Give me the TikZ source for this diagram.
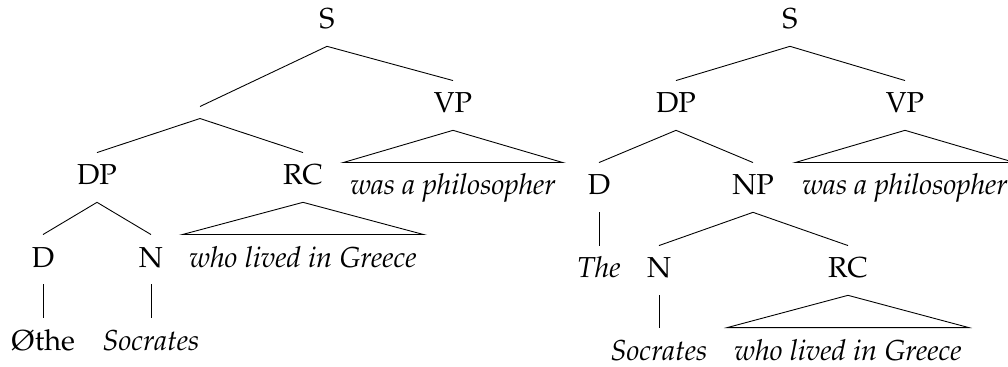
\documentclass[tikz,border=0pt]{standalone}
\usepackage[T1]{fontenc}
\usepackage{mathpazo}
\usetikzlibrary{positioning}
\newcommand{\treefont}{\fontsize{13pt}{16pt}\selectfont}
\tikzstyle{cat} = [anchor=base, inner sep=0pt, text height=14.4pt, text depth=7.6pt, font=\treefont]
\tikzstyle{leaf} = [cat, font=\treefont\itshape, inner xsep=3pt]
\tikzstyle{blank} = [inner sep=0pt, minimum height=5pt, minimum width=0pt]

\begin{document}
\begin{tikzpicture}[x=0.45pt, y=-0.45pt]
	\useasboundingbox (0,0) rectangle (1008,367);
	% left tree
	\node[cat] (lS) at (327,29) {S};
	\node[blank] (lX) at (200,112.5) {};
	\node[cat] (lVP) at (453,113) {VP};
	\node[leaf] (lVPt) at (453,195) {was a philosopher};
	\node[cat] (lDP) at (97,185) {DP};
	\node[cat] (lRC) at (303,185) {RC};
	\node[leaf] (lRCt) at (303,267) {who lived in Greece};
	\node[cat] (lD) at (43,267) {D};
	\node[cat] (lN) at (151,267) {N};
	\node[cat] (lthe) at (43,350) {\O the};
	\node[leaf] (lsoc) at (151,350) {Socrates};
	\draw (lS.south) -- (lX.north) (lS.south) -- (lVP.north);
	\draw (lX.south) -- (lDP.north) (lX.south) -- (lRC.north);
	\draw (lDP.south) -- (lD.north) (lDP.south) -- (lN.north);
	\draw (lD.south) -- (lthe.north) (lN.south) -- (lsoc.north);
	\draw (lVP.south) -- (lVPt.north west) -- (lVPt.north east) -- cycle;
	\draw (lRC.south) -- (lRCt.north west) -- (lRCt.north east) -- cycle;
	% right tree
	\node[cat] (rS) at (790,29) {S};
	\node[cat] (rDP) at (676,113) {DP};
	\node[cat] (rVP) at (905,113) {VP};
	\node[leaf] (rVPt) at (905,195) {was a philosopher};
	\node[cat] (rD) at (599,195) {D};
	\node[cat] (rNP) at (753,195) {NP};
	\node[leaf] (rthe) at (599,278) {The};
	\node[cat] (rN) at (659,278) {N};
	\node[cat] (rRC) at (848,278) {RC};
	\node[leaf] (rsoc) at (659,360) {Socrates};
	\node[leaf] (rRCt) at (848,360) {who lived in Greece};
	\draw (rS.south) -- (rDP.north) (rS.south) -- (rVP.north);
	\draw (rDP.south) -- (rD.north) (rDP.south) -- (rNP.north);
	\draw (rD.south) -- (rthe.north);
	\draw (rNP.south) -- (rN.north) (rNP.south) -- (rRC.north);
	\draw (rN.south) -- (rsoc.north);
	\draw (rVP.south) -- (rVPt.north west) -- (rVPt.north east) -- cycle;
	\draw (rRC.south) -- (rRCt.north west) -- (rRCt.north east) -- cycle;
\end{tikzpicture}
\end{document}
